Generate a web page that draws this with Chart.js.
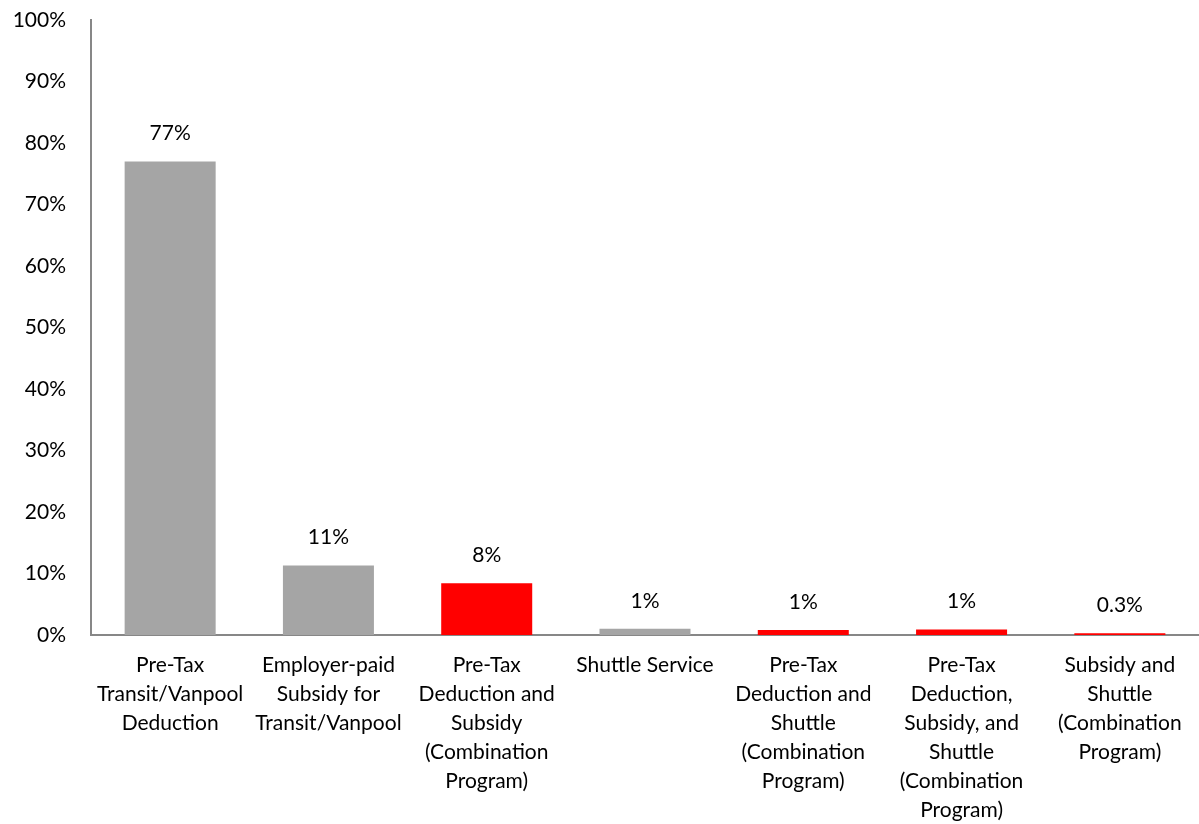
<!DOCTYPE html>
<html>
<head>
<meta charset="utf-8">
<script src="https://cdn.jsdelivr.net/npm/chart.js@4.4.0/dist/chart.umd.min.js"></script>
<style>
  html, body { margin: 0; padding: 0; background: #fff; }
  #wrap { width: 1199px; height: 824px; }
</style>
</head>
<body>
<div id="wrap"><canvas id="programChart" width="1199" height="824"></canvas></div>
<script>
// Commuter benefit programs offered (share of employers)
const programs = [
  ["Pre-Tax", "Transit/Vanpool", "Deduction"],
  ["Employer-paid", "Subsidy for", "Transit/Vanpool"],
  ["Pre-Tax", "Deduction and", "Subsidy", "(Combination", "Program)"],
  ["Shuttle Service"],
  ["Pre-Tax", "Deduction and", "Shuttle", "(Combination", "Program)"],
  ["Pre-Tax", "Deduction,", "Subsidy, and", "Shuttle", "(Combination", "Program)"],
  ["Subsidy and", "Shuttle", "(Combination", "Program)"],
];
const shares = [77, 11.3, 8.4, 1.0, 0.8, 0.9, 0.3];
const labelDecimals = [0, 0, 0, 0, 0, 0, 1];
const isCombination = [false, false, true, false, true, true, true];
const yTicks = [0, 10, 20, 30, 40, 50, 60, 70, 80, 90, 100];

const GRAY = "#a5a5a5";
const RED = "#ff0000";
const AXIS = "#878787";
const FONT = "Lato, 'Open Sans', sans-serif";
const FONT_SIZE = 21;

// value labels above each bar
const barLabels = {
  id: "barLabels",
  afterDatasetsDraw(chart) {
    const ctx = chart.ctx;
    const meta = chart.getDatasetMeta(0);
    ctx.save();
    ctx.font = FONT_SIZE + "px " + FONT;
    ctx.fillStyle = "#000";
    ctx.textAlign = "center";
    ctx.textBaseline = "middle";
    meta.data.forEach((bar, i) => {
      const txt = shares[i].toFixed(labelDecimals[i]) + "%";
      ctx.fillText(txt, bar.x, bar.y - 28);
    });
    ctx.restore();
  },
};

new Chart(document.getElementById("programChart"), {
  type: "bar",
  data: {
    labels: programs,
    datasets: [
      {
        data: shares,
        backgroundColor: isCombination.map((c) => (c ? RED : GRAY)),
        barPercentage: 0.575,
        categoryPercentage: 1,
      },
    ],
  },
  options: {
    responsive: false,
    animation: false,
    layout: { padding: { top: 20, right: 0, left: 0, bottom: 0 } },
    plugins: { legend: { display: false }, tooltip: { enabled: false } },
    scales: {
      x: {
        grid: { display: false, drawTicks: false },
        border: { display: true, color: AXIS, width: 2 },
        ticks: {
          color: "#000",
          font: { family: FONT, size: FONT_SIZE, lineHeight: 1.38 },
          padding: 16,
          maxRotation: 0,
          autoSkip: false,
        },
        afterFit: (scale) => {
          scale.height = 189;
          scale.paddingLeft = 0;
          scale.paddingRight = 0;
        },
      },
      y: {
        min: 0,
        max: 100,
        afterBuildTicks: (scale) => {
          scale.ticks = yTicks.map((v) => ({ value: v }));
        },
        grid: { display: false, drawTicks: false },
        border: { display: true, color: AXIS, width: 2 },
        ticks: {
          color: "#000",
          font: { family: FONT, size: FONT_SIZE },
          padding: 25,
          callback: (v) => v + "%",
        },
        afterFit: (scale) => {
          scale.width = 91;
          scale.paddingTop = 0;
          scale.paddingBottom = 0;
        },
      },
    },
  },
  plugins: [barLabels],
});
</script>
</body>
</html>
